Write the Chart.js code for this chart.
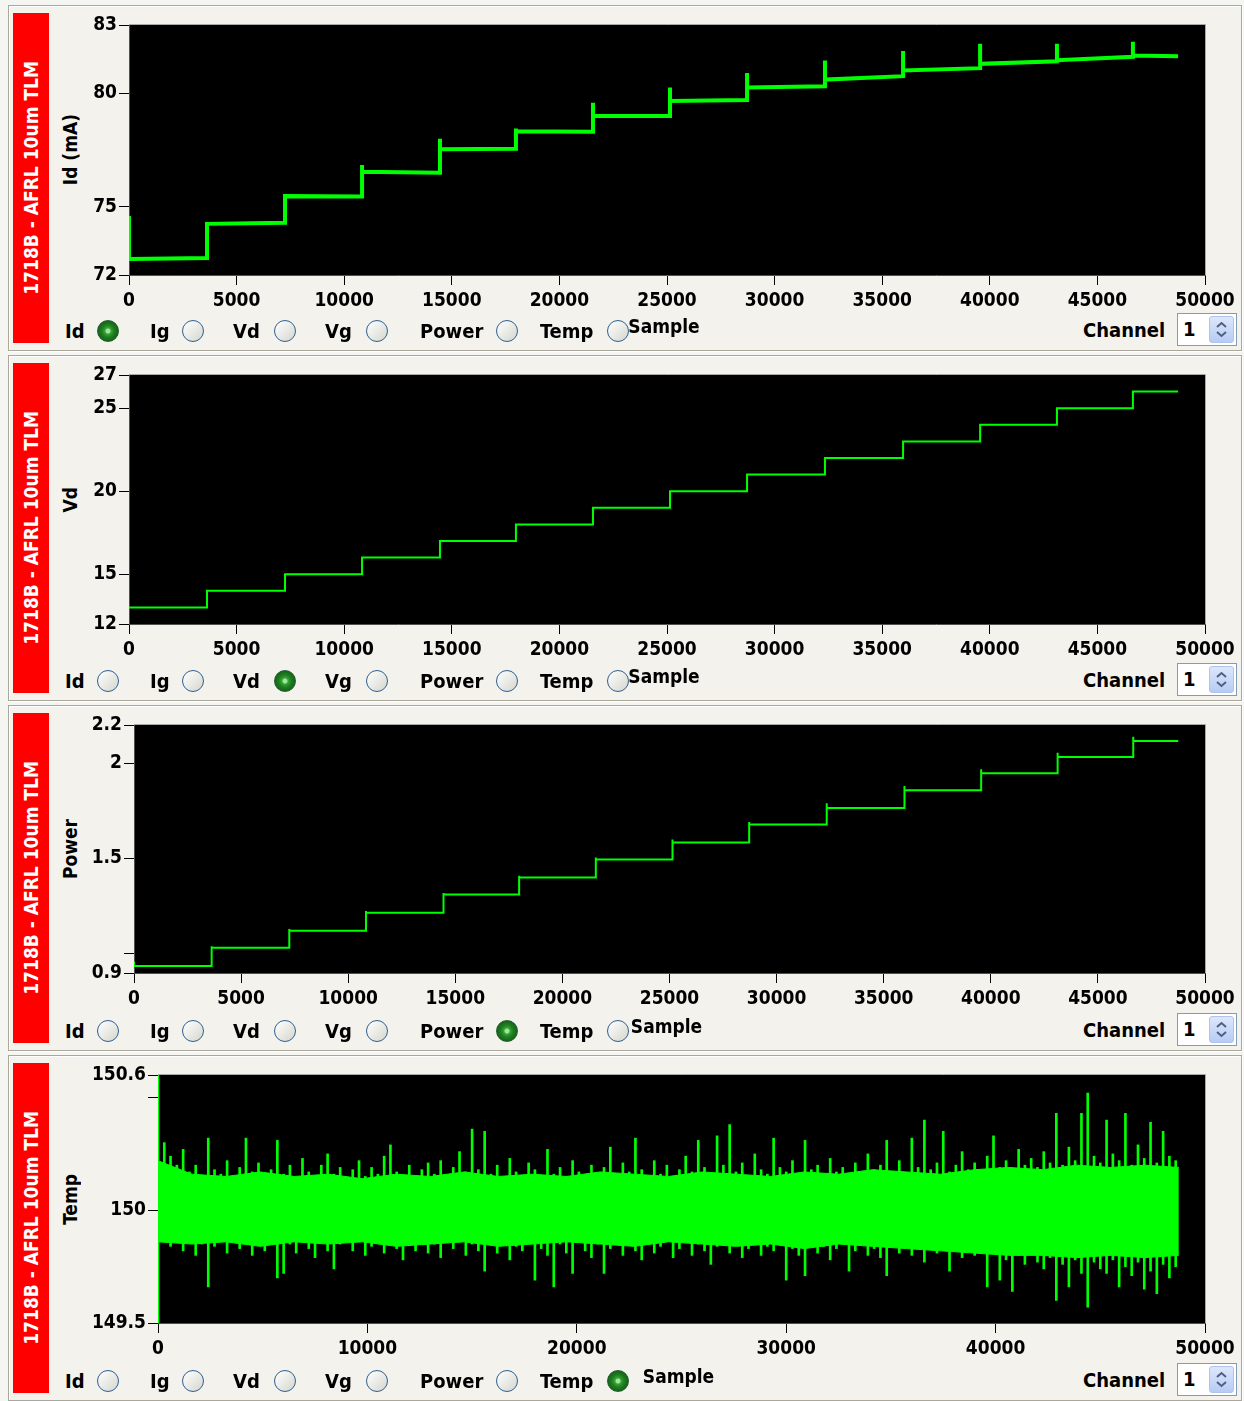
<!DOCTYPE html>
<html>
<head>
<meta charset="utf-8">
<script src="https://cdn.jsdelivr.net/npm/chart.js@4.4.1/dist/chart.umd.min.js"></script>
<style>
  html, body { margin: 0; padding: 0; }
  body {
    width: 1244px; height: 1401px; position: relative; overflow: hidden;
    background: #f5f5f2; color: #000; font-weight: bold;
    font-family: 'DejaVu Sans Condensed', 'DejaVu Sans', sans-serif;
  }
  .panel {
    position: absolute; left: 8px; width: 1232px; height: 344px; background: #f3f2ec;
    border: 1px solid #aba89b; box-shadow: inset 1px 1px 0 #fff, 1px 1px 0 #fff;
  }
  .tag {
    position: absolute; left: 13px; width: 36px; height: 330px; background: #ff0000; color: #fff;
    display: flex; align-items: center; justify-content: center;
  }
  .tag span, .ytitle span { writing-mode: vertical-rl; transform: rotate(180deg); white-space: nowrap; }
  .tag span { font-size: 19px; }
  .ytitle {
    position: absolute; left: 55px; width: 30px; height: 240px;
    display: flex; align-items: center; justify-content: center;
  }
  .ytitle span { font-size: 19px; }
  .lbl { position: absolute; font-size: 20px; line-height: 24px; height: 24px; white-space: nowrap; }
  .radio {
    position: absolute; width: 22px; height: 22px; border-radius: 50%; box-sizing: border-box;
    border: 1.5px solid #2d5f91; background: linear-gradient(135deg, #ffffff, #d6d6ce);
  }
  .radio.on {
    border: 1px solid #1d5e30;
    background: radial-gradient(circle, #9be89b 0 2px, #3aa53a 3px, #208020 6px, #176417 10px);
  }
  .spin {
    position: absolute; left: 1177px; width: 60px; height: 33px; box-sizing: border-box;
    background: #fff; border: 1px solid #7f9db9;
  }
  .spin .val { position: absolute; left: 5px; top: 3px; font-size: 20px; line-height: 24px; }
  .spin .btn {
    position: absolute; left: 31px; top: 2px; width: 25px; height: 27px; border-radius: 3px;
    background: linear-gradient(#dde7fb, #b7cbf4); border: 1px solid #b0c3ea; box-sizing: border-box;
  }
  canvas { position: absolute; }
</style>
</head>
<body>
<script>
// sample positions where Vd steps up, and the last recorded sample
const stepStarts = [0, 3625, 7250, 10830, 14450, 17980, 21560, 25140, 28720, 32340, 35970, 39550, 43120, 46650];
const lastSample = 48750;

// Id (mA): level at start / end of each step, and the overshoot at the step edge
const idStart = [72.7, 74.25, 75.47, 76.54, 77.53, 78.32, 79.0, 79.66, 80.25, 80.6, 81.0, 81.29, 81.45, 81.66];
const idEnd = [72.75, 74.3, 75.45, 76.5, 77.55, 78.3, 79.0, 79.7, 80.3, 80.75, 81.1, 81.4, 81.6, 81.62];
const idSpike = [74.6, 74.25, 75.47, 76.84, 78.0, 78.45, 79.58, 80.25, 80.89, 81.44, 81.86, 82.18, 82.18, 82.26];

// Vd
const vdLevels = [13, 14, 15, 16, 17, 18, 19, 20, 21, 22, 23, 24, 25, 26];

// Power
const powerLevels = [0.937, 1.032, 1.121, 1.216, 1.311, 1.4, 1.495, 1.584, 1.679, 1.765, 1.858, 1.947, 2.032, 2.116];
const powerSpike = [0.96, 1.04, 1.13, 1.225, 1.32, 1.41, 1.505, 1.6, 1.691, 1.79, 1.88, 1.968, 2.054, 2.138];

// Temp: spike tips (high / low) read every tempStep samples
const tempStep = 300;
const tempHigh = [
  150.6, 150.3, 150.24, 150.2, 150.27, 150.17, 150.2, 150.15, 150.32, 150.18,
  150.16, 150.22, 150.14, 150.19, 150.32, 150.17, 150.21, 150.15, 150.18, 150.31,
  150.16, 150.2, 150.14, 150.23, 150.17, 150.15, 150.2, 150.25, 150.16, 150.19,
  150.14, 150.18, 150.22, 150.15, 150.19, 150.16, 150.24, 150.29, 150.17, 150.15,
  150.2, 150.14, 150.18, 150.21, 150.16, 150.22, 150.15, 150.19, 150.26, 150.17,
  150.36, 150.18, 150.35, 150.16, 150.2, 150.14, 150.23, 150.17, 150.15, 150.21,
  150.18, 150.14, 150.27, 150.16, 150.19, 150.15, 150.22, 150.17, 150.14, 150.2,
  150.16, 150.19, 150.28, 150.15, 150.21, 150.17, 150.32, 150.18, 150.15, 150.22,
  150.16, 150.2, 150.14, 150.18, 150.24, 150.17, 150.31, 150.19, 150.16, 150.33,
  150.2, 150.38, 150.17, 150.21, 150.15, 150.25, 150.18, 150.16, 150.32, 150.19,
  150.17, 150.22, 150.15, 150.31, 150.18, 150.2, 150.14, 150.23, 150.17, 150.19,
  150.16, 150.21, 150.15, 150.25, 150.18, 150.2, 150.31, 150.17, 150.22, 150.16,
  150.32, 150.19, 150.4, 150.18, 150.21, 150.35, 150.17, 150.2, 150.26, 150.18,
  150.21, 150.17, 150.24, 150.33, 150.19, 150.22, 150.18, 150.27, 150.2, 150.23,
  150.19, 150.26, 150.21, 150.43, 150.2, 150.28, 150.22, 150.43, 150.52, 150.24,
  150.21, 150.4, 150.25, 150.22, 150.43, 150.2, 150.29, 150.23, 150.39, 150.21,
  150.35, 150.24, 150.22
];
const tempLow = [
  149.5, 149.88, 149.84, 149.87, 149.82, 149.86, 149.8, 149.85, 149.66, 149.84,
  149.87, 149.81, 149.86, 149.83, 149.88, 149.8, 149.85, 149.82, 149.87, 149.7,
  149.72, 149.85, 149.81, 149.87, 149.83, 149.79, 149.86, 149.82, 149.74, 149.85,
  149.88, 149.82, 149.86, 149.8, 149.84, 149.87, 149.81, 149.85, 149.83, 149.78,
  149.86, 149.82, 149.88, 149.81, 149.85, 149.79, 149.87, 149.83, 149.86, 149.8,
  149.85, 149.82, 149.73, 149.86, 149.81, 149.87, 149.78, 149.84, 149.82, 149.86,
  149.69, 149.83, 149.8, 149.66, 149.85, 149.81, 149.72, 149.86, 149.82, 149.79,
  149.85, 149.72, 149.83, 149.87, 149.8, 149.85, 149.82, 149.78, 149.86, 149.81,
  149.84, 149.87, 149.79, 149.83, 149.86, 149.8, 149.85, 149.82, 149.76, 149.84,
  149.87, 149.81, 149.85, 149.79, 149.83, 149.86, 149.8, 149.84, 149.82, 149.85,
  149.69, 149.83, 149.8, 149.71, 149.85, 149.81, 149.84, 149.78, 149.83, 149.86,
  149.73, 149.82, 149.85, 149.8, 149.83, 149.79, 149.71, 149.84, 149.81, 149.85,
  149.8, 149.83, 149.77, 149.84, 149.81, 149.85, 149.73, 149.82, 149.79, 149.83,
  149.8, 149.84, 149.66, 149.81, 149.69, 149.78, 149.64, 149.8, 149.76, 149.82,
  149.77, 149.74, 149.79, 149.6, 149.76, 149.66, 149.78, 149.72, 149.57, 149.77,
  149.74, 149.72, 149.78, 149.66, 149.75, 149.71, 149.77, 149.65, 149.73, 149.63,
  149.76, 149.7, 149.75
];
// Temp: edges of the solid core of the band, read every coreStep samples
const coreStep = 1625;
const coreHigh = [150.22, 150.16, 150.15, 150.17, 150.15, 150.16, 150.14, 150.16, 150.15, 150.17,
  150.15, 150.16, 150.15, 150.17, 150.16, 150.15, 150.17, 150.16, 150.15, 150.17,
  150.16, 150.18, 150.17, 150.16, 150.18, 150.19, 150.18, 150.2, 150.19, 150.2, 150.19];
const coreLow = [149.86, 149.85, 149.86, 149.84, 149.86, 149.85, 149.86, 149.84, 149.85, 149.86,
  149.84, 149.85, 149.86, 149.85, 149.84, 149.86, 149.85, 149.84, 149.85, 149.83,
  149.85, 149.84, 149.83, 149.82, 149.81, 149.8, 149.8, 149.79, 149.8, 149.79, 149.8];

// axis ticks as the instrument shows them (some ticks carry no label)
const idTicks = [72, 75, 80, 83];
const vdTicks = [12, 15, 20, 25, 27];
const powerTicks = [0.9, 1, 1.5, 2, 2.2];
const powerUnlabelled = [1];
const tempTicks = [149.5, 150, 150.5, 150.6];
const tempUnlabelled = [150.5];

const channelNames = ['Id', 'Ig', 'Vd', 'Vg', 'Power', 'Temp'];
const nameLeft = [65, 150, 233, 325, 420, 540];
const radioMid = [108, 193, 285, 377, 507, 618];

const FONT = "'DejaVu Sans Condensed', 'DejaVu Sans', sans-serif";
const GREEN = '#00ff00';
const CANVAS_LEFT = 56;

function stepPoints(levelsA, levelsB, spikes) {
  const pts = [];
  stepStarts.forEach((s, i) => {
    const next = i + 1 < stepStarts.length ? stepStarts[i + 1] : lastSample;
    if (spikes) pts.push({ x: s, y: spikes[i] });
    pts.push({ x: s, y: levelsA[i] });
    pts.push({ x: next, y: levelsB[i] });
  });
  return pts;
}

const panels = [
  { title: 'Id (mA)', selected: 0, plot: { left: 129, top: 25, bottom: 275 }, xStep: 5000,
    yTicks: idTicks, yBlank: [],
    datasets: [{ data: stepPoints(idStart, idEnd, idSpike), borderWidth: 4 }] },
  { title: 'Vd', selected: 2, plot: { left: 129, top: 375, bottom: 624 }, xStep: 5000,
    yTicks: vdTicks, yBlank: [],
    datasets: [{ data: stepPoints(vdLevels, vdLevels, null), borderWidth: 2 }] },
  { title: 'Power', selected: 4, plot: { left: 134, top: 725, bottom: 973 }, xStep: 5000,
    yTicks: powerTicks, yBlank: powerUnlabelled,
    datasets: [{ data: stepPoints(powerLevels, powerLevels, powerSpike), borderWidth: 2 }] },
  { title: 'Temp', selected: 5, plot: { left: 158, top: 1075, bottom: 1323 }, xStep: 10000,
    yTicks: tempTicks, yBlank: tempUnlabelled,
    datasets: [
      { data: coreHigh.map((v, i) => ({ x: i * coreStep, y: v })), borderWidth: 1, fill: '+1', backgroundColor: GREEN },
      { data: coreLow.map((v, i) => ({ x: i * coreStep, y: v })), borderWidth: 1, fill: false },
      { type: 'bar', data: tempHigh.map((v, i) => ({ x: i * tempStep, y: [tempLow[i], v] })),
        backgroundColor: GREEN, borderWidth: 0, barThickness: 2, grouped: false }
    ] }
];

const plotBox = {
  id: 'plotBox',
  beforeDraw(chart) {
    const a = chart.chartArea, ctx = chart.ctx;
    ctx.save();
    ctx.fillStyle = '#000';
    ctx.fillRect(a.left, a.top, a.right - a.left, a.bottom - a.top);
    ctx.restore();
  },
  afterDraw(chart) {
    const a = chart.chartArea, ctx = chart.ctx;
    ctx.save();
    ctx.strokeStyle = '#a9a9a9';
    ctx.lineWidth = 1;
    ctx.beginPath();
    ctx.moveTo(a.left, a.top - 0.5);
    ctx.lineTo(a.right + 0.5, a.top - 0.5);
    ctx.lineTo(a.right + 0.5, a.bottom);
    ctx.stroke();
    ctx.restore();
  }
};

function addEl(cls, css, html) {
  const el = document.createElement('div');
  el.className = cls;
  Object.assign(el.style, css);
  if (html) el.innerHTML = html;
  document.body.appendChild(el);
  return el;
}

const tickFont = { family: FONT, size: 19, weight: 'bold' };

panels.forEach((p, k) => {
  const T = 350 * k;
  addEl('panel', { top: (5 + T) + 'px' });
  addEl('tag', { top: (13 + T) + 'px' }, '<span>1718B - AFRL 10um TLM</span>');
  const mid = (p.plot.top + p.plot.bottom) / 2;
  addEl('ytitle', { top: (mid - 120) + 'px' }, '<span>' + p.title + '</span>');

  const cv = document.createElement('canvas');
  const h = (p.plot.bottom - p.plot.top) + 17 + 42;
  cv.width = 1244 - CANVAS_LEFT;
  cv.height = h;
  cv.style.left = CANVAS_LEFT + 'px';
  cv.style.top = (p.plot.top - 17) + 'px';
  document.body.appendChild(cv);

  new Chart(cv.getContext('2d'), {
    type: 'line',
    data: {
      datasets: p.datasets.map(d => Object.assign({
        borderColor: GREEN, pointRadius: 0, tension: 0, fill: false, borderCapStyle: 'butt'
      }, d))
    },
    options: {
      responsive: false, animation: false, devicePixelRatio: 1,
      layout: { padding: { top: 17, right: 39, left: 0, bottom: 0 } },
      plugins: { legend: { display: false }, tooltip: { enabled: false } },
      scales: {
        x: {
          type: 'linear', min: 0, max: 50000, offset: false,
          afterFit: ax => { ax.height = 42; },
          grid: { offset: false, drawOnChartArea: false, drawTicks: true, tickLength: 10, tickColor: '#000' },
          border: { color: '#505050' },
          ticks: { stepSize: p.xStep, autoSkip: false, maxRotation: 0, padding: 5, color: '#000',
                   font: tickFont, callback: v => String(v) }
        },
        y: {
          type: 'linear', min: p.yTicks[0], max: p.yTicks[p.yTicks.length - 1],
          afterFit: ax => { ax.width = p.plot.left - CANVAS_LEFT; },
          afterBuildTicks: ax => { ax.ticks = p.yTicks.map(v => ({ value: v })); },
          grid: { drawOnChartArea: false, drawTicks: true, tickLength: 10, tickColor: '#000' },
          border: { color: '#505050' },
          ticks: { autoSkip: false, padding: 2, color: '#000', font: tickFont,
                   callback: v => p.yBlank.includes(v) ? '' : String(v) }
        }
      }
    },
    plugins: [plotBox]
  });

  const cx = (p.plot.left + 1205) / 2;
  addEl('lbl', { left: (cx - 43) + 'px', width: '80px', textAlign: 'center', top: (314 + T) + 'px', fontSize: '19px' }, 'Sample');

  channelNames.forEach((name, i) => {
    addEl('lbl', { left: nameLeft[i] + 'px', top: (319 + T) + 'px' }, name);
    addEl('radio' + (i === p.selected ? ' on' : ''), { left: (radioMid[i] - 11) + 'px', top: (320 + T) + 'px' });
  });

  addEl('lbl', { left: '1083px', top: (318 + T) + 'px' }, 'Channel');
  addEl('spin', { top: (313 + T) + 'px' },
    '<div class="val">1</div><div class="btn"><svg width="23" height="25" viewBox="0 0 23 25">' +
    '<polyline points="7,10 11.5,6 16,10" fill="none" stroke="#4d6185" stroke-width="2"/>' +
    '<polyline points="7,15 11.5,19 16,15" fill="none" stroke="#4d6185" stroke-width="2"/></svg></div>');
});
</script>
</body>
</html>
